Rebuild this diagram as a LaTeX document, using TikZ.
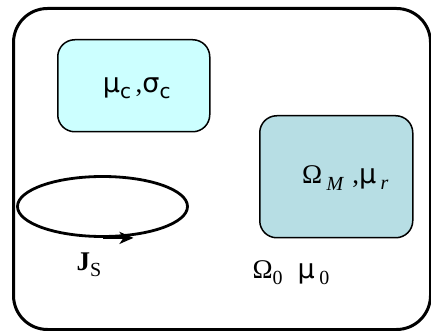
\documentclass[tikz,border=0pt]{standalone}
\usepackage{fontspec}
\setmainfont{Liberation Serif}
\newfontfamily\grk{DejaVu Sans}
\usetikzlibrary{shapes.geometric,arrows.meta}
\definecolor{paleaqua}{RGB}{204,255,255}
\definecolor{duskaqua}{RGB}{183,222,228}
\newcommand{\lo}[2][-6pt]{\raisebox{#1}{\fontsize{20}{22}\selectfont #2}}

\begin{document}
\begin{tikzpicture}[x=1pt,y=-1pt,
  region/.style={draw=black, line width=1.5pt, rounded corners=17pt,
    anchor=north west, inner sep=0pt},
  lbl/.style={font=\fontsize{27}{30}\selectfont, inner sep=0pt},
]
  \useasboundingbox (0,0) rectangle (431,331);
  \node[draw=black, line width=3pt, rounded corners=34pt, anchor=north west,
    minimum width=417pt, minimum height=321pt] (domain) at (12,7) {};

  \node[region, fill=paleaqua, minimum width=152pt, minimum height=92pt]
    (coil) at (57,39) {};
  \node[lbl] at ([xshift=3pt,yshift=-3pt]coil.center) {{\grk μ}\lo{\grk c}\,,{\grk σ}\lo{\grk c}};

  \node[region, fill=duskaqua, minimum width=153pt, minimum height=122pt]
    (magnet) at (259,115) {};
  \node[lbl] at ([xshift=9pt,yshift=-1pt]magnet.center) {Ω\,\lo[-7pt]{\itshape M}\,\,,{\grk μ}\,\lo{\itshape r}};

  \node[ellipse, draw=black, line width=2.8pt, minimum width=170pt,
    minimum height=60pt, inner sep=0pt] (loop) at (102.5,206.5) {};
  \draw[line width=2.8pt, -{Stealth[length=14pt,width=12pt,inset=4pt]}]
    (loop.south) -- ([xshift=31pt]loop.south);

  \node[lbl] (js) at (89,265) {\textbf{J}\lo{S}};
  \node[lbl] (air) at (291,273) {Ω\lo{0}\hspace{15pt}{\grk μ}\,\lo{0}};
\end{tikzpicture}
\end{document}
